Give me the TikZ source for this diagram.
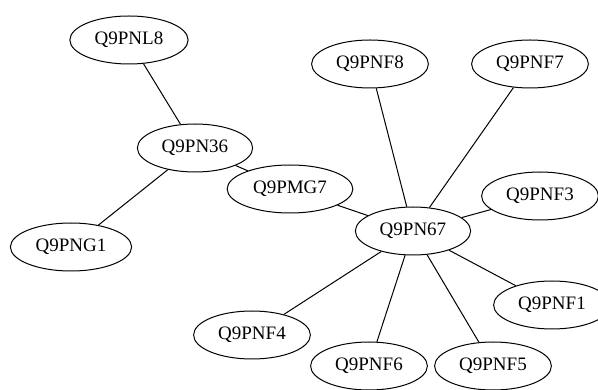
\documentclass[tikz,border=0pt]{standalone}
\usepackage{fontspec}
\setmainfont{Liberation Serif}
\usetikzlibrary{shapes.geometric}
\begin{document}
\begin{tikzpicture}[x=1pt,y=-1pt,
  prot/.style={draw,ellipse,line width=1pt,inner xsep=7.5pt,inner ysep=3pt,minimum height=48pt,font=\fontsize{19}{22}\selectfont},
  link/.style={line width=1pt}]
\useasboundingbox (0,0) rectangle (598,390);
\node[prot] (L8) at (129,40) {Q9PNL8};
\node[prot] (N36) at (195,148) {Q9PN36};
\node[prot] (G1) at (71,247) {Q9PNG1};
\node[prot] (MG7) at (290,189) {Q9PMG7};
\node[prot] (N67) at (413,231) {Q9PN67};
\node[prot] (F8) at (370,64) {Q9PNF8};
\node[prot] (F7) at (530,64) {Q9PNF7};
\node[prot] (F3) at (540,196) {Q9PNF3};
\node[prot] (F1) at (552,305) {Q9PNF1};
\node[prot] (F4) at (252,335) {Q9PNF4};
\node[prot] (F6) at (369,366) {Q9PNF6};
\node[prot] (F5) at (493,366) {Q9PNF5};
\draw[link] (L8) -- (N36);
\draw[link] (N36) -- (G1);
\draw[link] (N36) -- (MG7);
\draw[link] (MG7) -- (N67);
\draw[link] (N67) -- (F8);
\draw[link] (N67) -- (F7);
\draw[link] (N67) -- (F3);
\draw[link] (N67) -- (F1);
\draw[link] (N67) -- (F4);
\draw[link] (N67) -- (F6);
\draw[link] (N67) -- (F5);
\end{tikzpicture}
\end{document}
